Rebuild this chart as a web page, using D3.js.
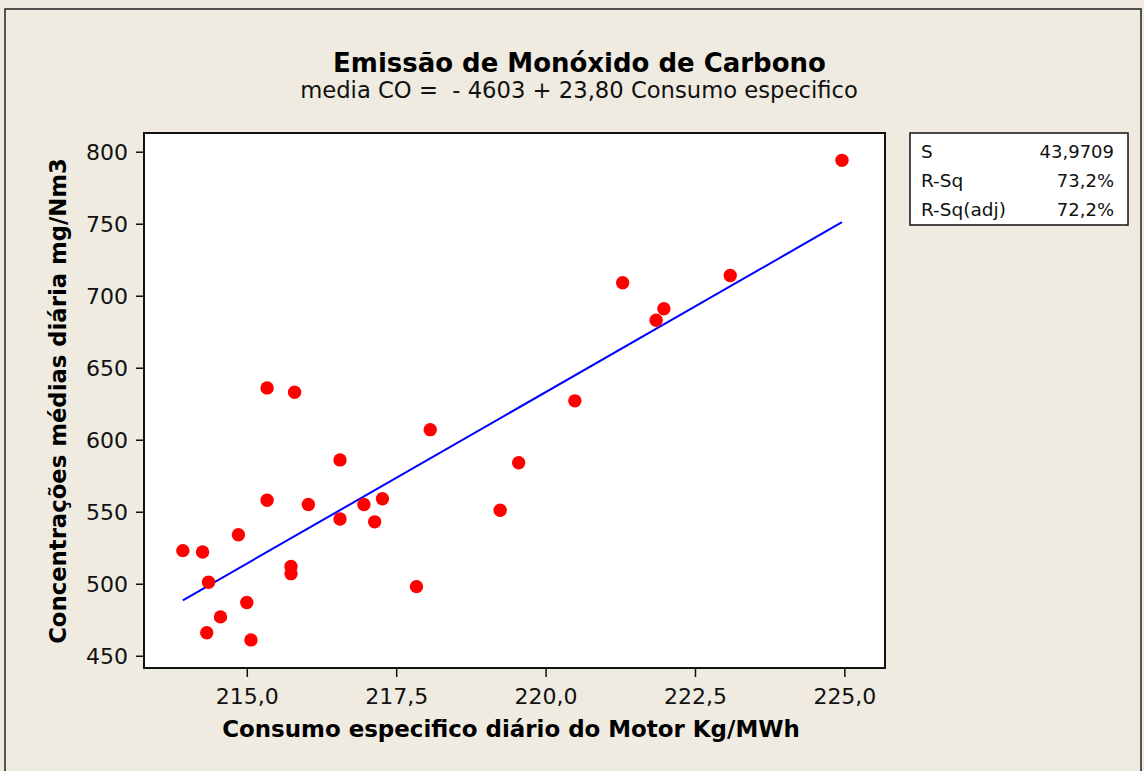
<!DOCTYPE html>
<html>
<head>
<meta charset="utf-8">
<script src="https://cdn.jsdelivr.net/npm/d3@7"></script>
<style>
  body { margin: 0; background: #efebe1; }
  svg { display: block; font-family: "DejaVu Sans", Verdana, sans-serif; }
</style>
</head>
<body>
<svg id="chart" width="1144" height="771"></svg>
<script>
// data
var consumo = [213.93, 214.26, 214.36, 214.86, 215.34, 216.03, 216.56, 216.56, 216.96, 217.27,
  217.14, 218.07, 217.84, 219.24, 215.74, 215.74, 215.00, 214.56, 214.33, 215.07,
  219.55, 215.34, 215.80, 224.96, 221.29, 221.98, 221.85, 223.09, 220.49];
var coMedia = [523, 522, 501, 534, 558, 555, 586, 545, 555, 559,
  543, 607, 498, 551, 512, 507, 487, 477, 466, 461,
  584, 636, 633, 794, 709, 691, 683, 714, 627];
var coef = [-4603, 23.80];
var xTicks = [215, 217.5, 220, 222.5, 225];
var yTicks = [450, 500, 550, 600, 650, 700, 750, 800];
var statLabels = ['S', 'R-Sq', 'R-Sq(adj)'];
var statValues = ['43,9709', '73,2%', '72,2%'];

var svg = d3.select('svg#chart');

// helper: size a text so it takes a given width
function fitText(sel, width) {
  var base = parseFloat(sel.style('font-size'));
  var len = sel.node().getComputedTextLength();
  sel.style('font-size', (base * width / len) + 'px');
  return sel;
}

// outer frame
svg.append('rect')
  .attr('x', 5)
  .attr('y', 9)
  .attr('width', 1136)
  .attr('height', 770)
  .style('fill', '#efebe1')
  .style('stroke', '#222')
  .style('stroke-width', 1.5);

var pLeft = 144, pRight = 885, pTop = 133, pBottom = 668;

var x = d3.scaleLinear()
  .domain([213.28, 225.68])
  .range([pLeft, pRight]);

var y = d3.scaleLinear()
  .domain([441.5, 813])
  .range([pBottom, pTop]);

var fmt = function (d) { return d3.format('.1f')(d).replace('.', ','); };

// plot area
svg.append('rect')
  .attr('x', pLeft)
  .attr('y', pTop)
  .attr('width', pRight - pLeft)
  .attr('height', pBottom - pTop)
  .style('fill', 'white')
  .style('stroke', 'none');

var xAxis = svg.append('g')
  .attr('transform', 'translate(0,' + pBottom + ')')
  .call(d3.axisBottom(x).tickValues(xTicks).tickFormat(fmt).tickSize(9).tickSizeOuter(0));

var yAxis = svg.append('g')
  .attr('transform', 'translate(' + pLeft + ',0)')
  .call(d3.axisLeft(y).tickValues(yTicks).tickFormat(d3.format('d')).tickSize(8).tickSizeOuter(0));

[xAxis, yAxis].forEach(function (ax) {
  ax.select('.domain').remove();
  ax.selectAll('.tick line').style('stroke', '#111').style('stroke-width', 1.5);
  ax.selectAll('.tick text')
    .style('font-family', '"DejaVu Sans", Verdana, sans-serif')
    .style('font-size', '22px')
    .style('fill', '#111');
});
xAxis.selectAll('.tick text').attr('dy', null).attr('y', 36);
yAxis.selectAll('.tick text').attr('x', -16).attr('dy', '0.36em');

svg.append('rect')
  .attr('x', pLeft)
  .attr('y', pTop)
  .attr('width', pRight - pLeft)
  .attr('height', pBottom - pTop)
  .style('fill', 'none')
  .style('stroke', '#111')
  .style('stroke-width', 2);

// fitted line
var xr = d3.extent(consumo);
svg.append('path')
  .datum(xr)
  .attr('d', d3.line()
    .x(function (d) { return x(d); })
    .y(function (d) { return y(coef[0] + coef[1] * d); }))
  .style('fill', 'none')
  .style('stroke', '#0000ff')
  .style('stroke-width', 2);

// points
svg.selectAll('circle.pt')
  .data(consumo)
  .enter()
  .append('circle')
    .attr('class', 'pt')
    .attr('cx', function (d) { return x(d); })
    .attr('cy', function (d, i) { return y(coMedia[i]); })
    .attr('r', 6.7)
    .style('fill', '#ff0000');

// titles
fitText(svg.append('text')
  .attr('x', 579.5)
  .attr('y', 72)
  .attr('text-anchor', 'middle')
  .style('font-size', '24px')
  .style('font-weight', 'bold')
  .style('fill', '#000')
  .text('Emissão de Monóxido de Carbono'), 493);

fitText(svg.append('text')
  .attr('x', 579)
  .attr('y', 98)
  .attr('text-anchor', 'middle')
  .style('font-size', '21px')
  .style('fill', '#111')
  .style('white-space', 'pre')
  .text('media CO =  - 4603 + 23,80 Consumo especifico'), 558);

fitText(svg.append('text')
  .attr('x', 511)
  .attr('y', 737)
  .attr('text-anchor', 'middle')
  .style('font-size', '22px')
  .style('font-weight', 'bold')
  .style('fill', '#000')
  .text('Consumo especifico diário do Motor Kg/MWh'), 578);

fitText(svg.append('text')
  .attr('transform', 'translate(66,401) rotate(-90)')
  .attr('text-anchor', 'middle')
  .style('font-size', '22px')
  .style('font-weight', 'bold')
  .style('fill', '#000')
  .text('Concentrações médias diária mg/Nm3'), 486);

// stats box
svg.append('rect')
  .attr('x', 910)
  .attr('y', 133)
  .attr('width', 218)
  .attr('height', 92)
  .style('fill', 'white')
  .style('stroke', '#111')
  .style('stroke-width', 1.5);

svg.selectAll('text.slab')
  .data(statLabels)
  .enter()
  .append('text')
    .attr('class', 'slab')
    .attr('x', 921)
    .attr('y', function (d, i) { return 158 + i * 29; })
    .style('font-size', '18.5px')
    .style('fill', '#111')
    .text(function (d) { return d; });

svg.selectAll('text.sval')
  .data(statValues)
  .enter()
  .append('text')
    .attr('class', 'sval')
    .attr('x', 1114)
    .attr('y', function (d, i) { return 158 + i * 29; })
    .attr('text-anchor', 'end')
    .style('font-size', '18px')
    .style('fill', '#111')
    .text(function (d) { return d; });
</script>
</body>
</html>
